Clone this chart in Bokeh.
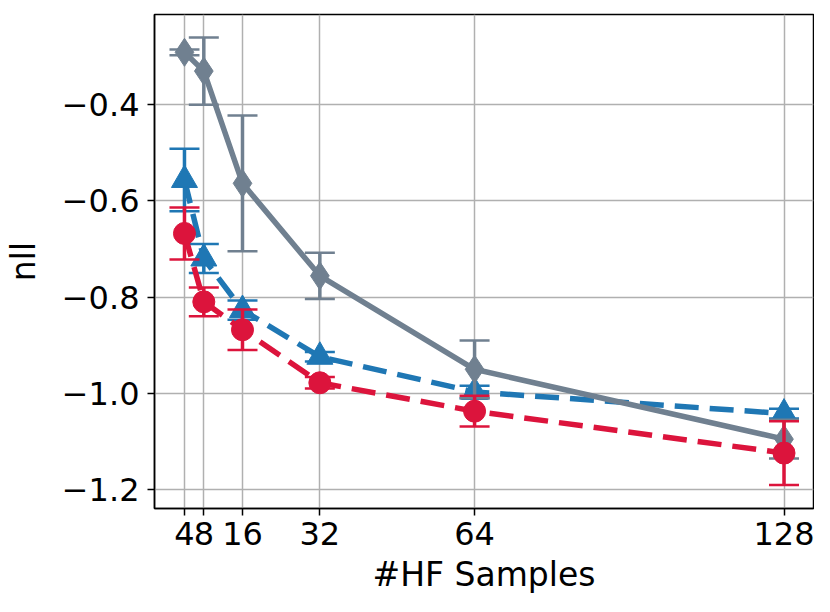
from bokeh.plotting import figure
from bokeh.models import ColumnDataSource, FixedTicker, CustomJSTickFormatter, Range1d
from bokeh.embed import file_html
from bokeh.resources import INLINE

# ---- data ----
hf_samples = [4, 8, 16, 32, 64, 128]
xtick_labels = ["4", "8", "16", "32", "64", "128"]
yticks = [-1.2, -1.0, -0.8, -0.6, -0.4]

gray_mean = [-0.292, -0.331, -0.564, -0.756, -0.950, -1.095]
gray_err = [0.006, 0.070, 0.141, 0.048, 0.060, 0.040]

blue_mean = [-0.557, -0.720, -0.827, -0.924, -0.997, -1.042]
blue_err = [0.065, 0.030, 0.020, 0.010, 0.013, 0.010]

red_mean = [-0.668, -0.810, -0.868, -0.978, -1.037, -1.124]
red_err = [0.054, 0.030, 0.042, 0.012, 0.032, 0.066]

FONT = "DejaVu Sans"

p = figure(width=814, height=596, output_backend="svg", toolbar_location=None,
           x_range=Range1d(-2.2, 134.1), y_range=Range1d(-1.239, -0.2135),
           min_border_left=152, min_border_right=1, min_border_top=14, min_border_bottom=88)
p.background_fill_color = "white"
p.border_fill_color = "white"
p.outline_line_color = "black"
p.outline_line_width = 1.5
p.outline_line_alpha = 1.0

for g in (p.xgrid, p.ygrid):
    g.grid_line_color = "#b0b0b0"
    g.grid_line_width = 1.5

p.xaxis.ticker = FixedTicker(ticks=hf_samples)
p.xaxis.major_label_overrides = {x: l for x, l in zip(hf_samples, xtick_labels)}
p.yaxis.ticker = FixedTicker(ticks=yticks)
p.yaxis.formatter = CustomJSTickFormatter(code="return tick.toFixed(1).replace('-', '\u2212');")

for ax in (p.xaxis, p.yaxis):
    ax.major_label_text_font = FONT
    ax.major_label_text_font_size = "32px"
    ax.major_label_text_color = "black"
    ax.axis_label_text_font = FONT
    ax.axis_label_text_font_size = "33px"
    ax.axis_label_text_font_style = "normal"
    ax.axis_label_text_color = "black"
    ax.axis_line_color = "black"
    ax.axis_line_width = 1.5
    ax.major_tick_line_color = "black"
    ax.major_tick_line_width = 1.5
    ax.major_tick_out = 7
    ax.major_tick_in = 0
    ax.minor_tick_line_color = None

p.xaxis.major_label_standoff = 6
p.yaxis.major_label_standoff = 8
p.xaxis.axis_label = "#HF Samples"
p.yaxis.axis_label = "nll"
p.xaxis.axis_label_standoff = 7
p.yaxis.axis_label_standoff = 16


def series(mean, err, color, dash, marker, size):
    src = ColumnDataSource(dict(
        x=hf_samples, y=mean,
        lo=[m - e for m, e in zip(mean, err)],
        hi=[m + e for m, e in zip(mean, err)],
    ))
    p.line("x", "y", source=src, line_color=color, line_width=5.5, line_dash=dash)
    p.segment(x0="x", y0="lo", x1="x", y1="hi", source=src, line_color=color, line_width=3.5)
    p.scatter("x", "lo", source=src, marker="dash", size=30, line_color=color, line_width=2.5)
    p.scatter("x", "hi", source=src, marker="dash", size=30, line_color=color, line_width=2.5)
    p.scatter("x", "y", source=src, marker=marker, size=size, fill_color=color,
              line_color=color, line_width=1)


series(blue_mean, blue_err, "#1f77b4", "24 11", "triangle", 26)
series(gray_mean, gray_err, "#708090", "solid", "diamond", 28)
series(red_mean, red_err, "#dc143c", "24 11", "circle", 22)

open("out.html", "w").write(file_html(p, INLINE))
